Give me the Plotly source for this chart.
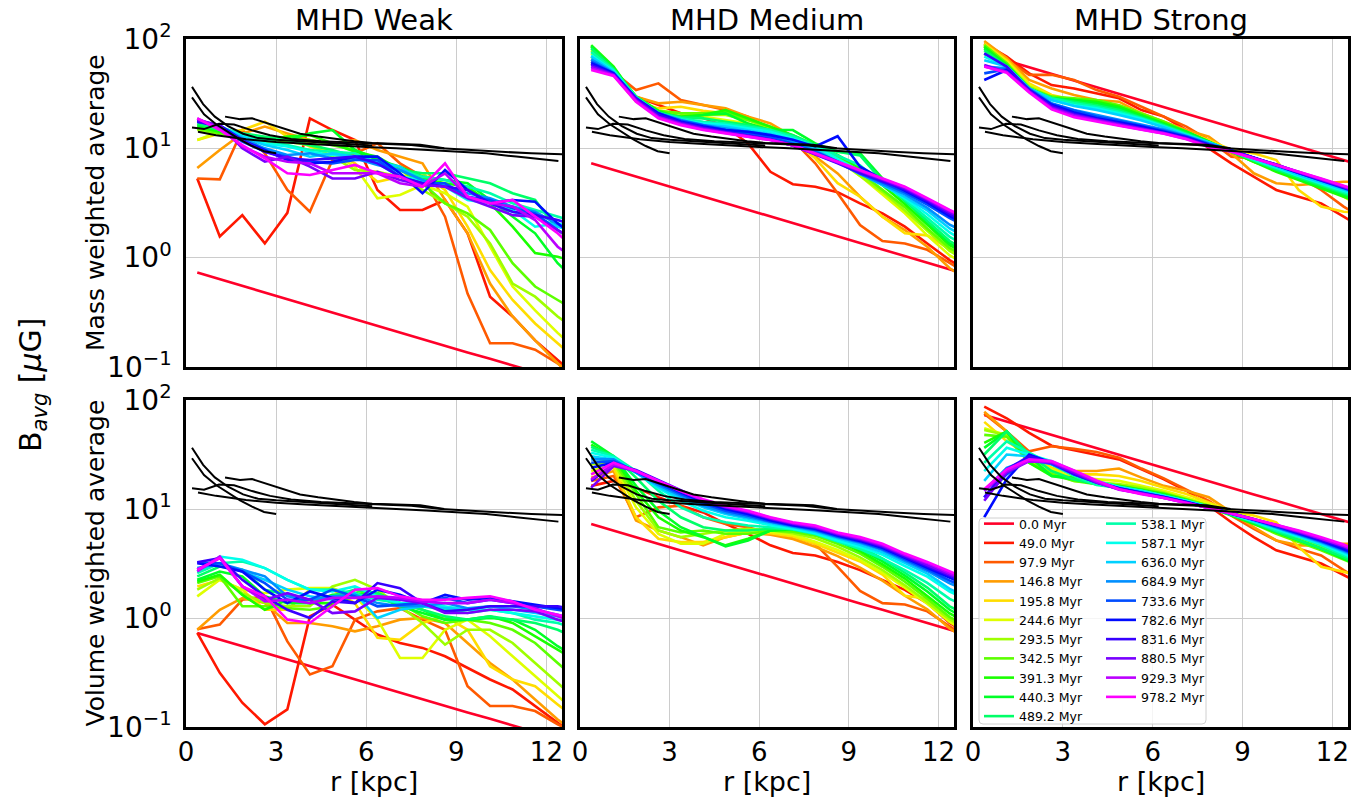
import plotly.graph_objects as go

# ---------------- data ----------------
TIMES_MYR = ["0.0", "49.0", "97.9", "146.8", "195.8", "244.6", "293.5", "342.5", "391.3", "440.3",
             "489.2", "538.1", "587.1", "636.0", "684.9", "733.6", "782.6", "831.6", "880.5", "929.3", "978.2"]
R_KPC = [0.375, 1.125, 1.875, 2.625, 3.375, 4.125, 4.875, 5.625, 6.375, 7.125, 7.875, 8.625,
         9.375, 10.125, 10.875, 11.625, 12.375, 13.125]

MASS_WEAK = [
    [0.73, 0.634, 0.552, 0.48, 0.417, 0.363, 0.315, 0.274, 0.238, 0.207, 0.18, 0.157, 0.136, 0.119, 0.103, 0.09, 0.078, 0.068],
    [5.3, 1.56, 2.45, 1.35, 2.57, 18.8, 14.7, 11.9, 4.16, 2.73, 2.73, 3.37, 1.67, 0.44, 0.29, 0.175, 0.116, 0.077],
    [5.3, 5.2, 14.7, 9.0, 4.16, 2.63, 7.82, 9.0, 11.1, 7.29, 5.51, 2.37, 0.47, 0.165, 0.165, 0.144, 0.108, 0.072],
    [6.6, 9.65, 13.7, 15.8, 13.7, 11.9, 11.1, 11.9, 9.65, 8.39, 7.29, 3.37, 1.67, 0.58, 0.29, 0.175, 0.108, 0.072],
    [11.9, 13.7, 14.7, 17.5, 12.8, 10.4, 9.3, 7.29, 4.95, 5.51, 5.91, 4.16, 1.92, 0.77, 0.41, 0.25, 0.165, 0.108],
    [11.9, 14.2, 12.8, 11.1, 11.9, 11.5, 9.0, 6.8, 3.49, 3.74, 4.62, 3.88, 2.93, 1.26, 0.545, 0.33, 0.205, 0.134],
    [14.7, 13.7, 12.3, 11.1, 11.5, 10.7, 8.39, 6.34, 6.1, 5.51, 4.16, 3.14, 2.37, 1.35, 0.58, 0.44, 0.29, 0.205],
    [15.2, 13.7, 12.8, 11.5, 12.3, 11.9, 10.7, 9.65, 8.1, 6.34, 4.79, 3.14, 2.54, 1.79, 0.89, 0.545, 0.41, 0.31],
    [15.8, 14.2, 12.8, 11.9, 12.8, 13.2, 11.1, 9.3, 8.39, 6.34, 5.3, 4.79, 4.46, 3.14, 1.92, 1.1, 1.02, 0.89],
    [16.3, 14.7, 13.2, 12.3, 11.9, 13.7, 14.7, 9.65, 7.82, 6.8, 5.51, 5.13, 4.79, 3.37, 2.37, 1.67, 0.89, 0.58],
    [16.9, 14.7, 13.7, 12.8, 11.9, 10.7, 9.65, 8.39, 7.55, 6.34, 5.91, 5.91, 5.3, 4.79, 3.88, 3.37, 1.79, 1.26],
    [17.5, 15.5, 13.7, 11.9, 10.7, 9.65, 9.3, 9.0, 7.29, 6.34, 5.51, 5.13, 4.46, 3.88, 3.14, 2.73, 2.37, 2.06],
    [17.9, 15.2, 13.0, 11.1, 10.4, 9.3, 8.7, 8.39, 7.29, 5.51, 5.13, 4.46, 3.37, 3.14, 2.73, 1.92, 2.06, 1.79],
    [18.2, 16.0, 12.8, 10.7, 9.65, 8.39, 9.0, 8.39, 7.55, 6.8, 4.95, 4.62, 3.61, 3.14, 2.63, 2.37, 1.92, 1.67],
    [18.4, 15.8, 12.3, 10.0, 8.7, 9.0, 8.1, 8.1, 7.05, 6.34, 5.13, 4.46, 3.88, 3.49, 2.93, 2.63, 2.0, 1.56],
    [17.9, 15.8, 11.5, 9.3, 8.39, 7.55, 7.29, 7.82, 7.82, 5.51, 4.79, 4.79, 3.61, 3.37, 2.83, 2.54, 1.79, 1.35],
    [17.5, 16.3, 11.9, 9.65, 7.82, 7.29, 7.55, 8.39, 8.39, 5.91, 3.88, 6.34, 4.16, 3.14, 3.37, 3.25, 2.06, 1.45],
    [17.5, 15.8, 11.9, 9.3, 8.1, 7.82, 8.1, 8.39, 7.29, 5.51, 4.79, 4.46, 4.16, 3.14, 2.63, 2.45, 2.21, 1.92],
    [18.2, 16.3, 10.0, 7.55, 8.39, 6.8, 5.3, 5.3, 6.1, 5.13, 4.62, 4.46, 3.49, 2.93, 2.45, 2.37, 1.79, 1.35],
    [18.8, 15.2, 10.4, 8.39, 7.55, 7.29, 5.91, 5.91, 5.91, 4.79, 4.46, 5.91, 3.61, 3.14, 2.93, 2.21, 1.26, 0.89],
    [18.8, 14.7, 10.7, 8.1, 5.91, 5.7, 6.34, 7.05, 5.91, 5.51, 4.46, 7.29, 3.61, 3.14, 3.37, 2.37, 1.67, 1.1],
]

MASS_MEDIUM = [
    [7.3, 6.34, 5.52, 4.8, 4.17, 3.63, 3.15, 2.74, 2.38, 2.07, 1.8, 1.57, 1.36, 1.19, 1.03, 0.9, 0.78, 0.68],
    [60, 50, 29.7, 25.0, 20.9, 19.0, 15.8, 11.1, 6.1, 4.7, 4.46, 3.97, 3.14, 2.54, 1.92, 1.35, 0.95, 0.72],
    [62, 50, 34.1, 39.3, 27.7, 25.0, 22.4, 19.5, 14.7, 11.9, 7.29, 3.88, 1.99, 1.42, 1.35, 1.18, 0.89, 0.68],
    [65, 48.5, 29.7, 25.8, 26.7, 24.8, 23.2, 19.5, 16.9, 12.8, 8.4, 5.9, 3.61, 2.37, 1.79, 1.26, 0.8, 0.6],
    [69, 47, 26.8, 23.2, 24.0, 22.0, 20.9, 18.2, 15.2, 11.9, 8.1, 4.8, 3.61, 2.37, 1.67, 1.6, 1.2, 0.95],
    [74, 48.5, 27.7, 22.0, 20.9, 19.5, 18.2, 16.9, 14.7, 11.9, 9.6, 7.8, 5.6, 3.8, 2.55, 1.6, 1.05, 0.8],
    [79, 52, 28.7, 22.0, 19.5, 20.2, 20.2, 18.2, 15.2, 12.8, 10.2, 8.1, 5.6, 4.0, 2.7, 1.75, 1.15, 0.88],
    [85, 54, 29.7, 22.0, 20.9, 20.9, 21.6, 18.2, 15.8, 12.3, 10.4, 8.4, 6.0, 4.2, 2.9, 1.85, 1.22, 0.95],
    [88, 56, 28.7, 20.9, 19.5, 20.2, 22.4, 18.8, 15.8, 13.2, 10.7, 8.7, 6.5, 4.6, 3.1, 2.0, 1.3, 1.0],
    [86, 54, 29.7, 22.0, 18.8, 20.2, 20.9, 16.9, 14.7, 14.7, 11.1, 9.3, 9.0, 5.3, 3.4, 2.1, 1.35, 1.05],
    [82, 53, 28.7, 21.3, 19.2, 18.8, 17.5, 16.3, 14.7, 13.2, 10.7, 9.3, 8.6, 5.0, 3.3, 2.15, 1.42, 1.1],
    [76, 52, 29.7, 20.9, 18.8, 17.5, 16.9, 15.8, 14.7, 12.8, 10.7, 8.6, 7.0, 4.8, 3.4, 2.3, 1.55, 1.2],
    [71, 51, 28.7, 20.2, 18.2, 16.9, 16.3, 15.2, 14.2, 12.3, 10.4, 8.0, 6.2, 4.7, 3.5, 2.5, 1.7, 1.3],
    [69, 50, 28.7, 20.2, 18.2, 16.3, 15.8, 14.7, 13.5, 11.9, 9.8, 7.5, 5.9, 4.6, 3.6, 2.7, 1.85, 1.45],
    [65, 49, 28.7, 20.9, 18.2, 16.3, 15.2, 14.2, 13.0, 11.3, 9.5, 7.5, 5.8, 4.7, 3.8, 2.85, 2.0, 1.6],
    [62, 48.5, 28.7, 20.9, 17.9, 16.3, 14.7, 13.7, 12.6, 11.0, 9.3, 7.6, 5.9, 4.9, 3.95, 3.05, 2.3, 1.8],
    [60, 48.5, 28.7, 20.9, 17.5, 15.8, 14.7, 14.2, 13.2, 12.0, 10.4, 12.9, 6.8, 5.2, 4.1, 3.2, 2.4, 1.9],
    [58, 47.5, 28.7, 20.2, 17.2, 15.5, 14.2, 13.2, 12.1, 10.6, 8.8, 7.3, 5.95, 5.0, 4.2, 3.3, 2.5, 2.0],
    [56, 47, 27.7, 19.5, 16.9, 15.2, 14.0, 13.0, 12.0, 10.6, 8.85, 7.4, 6.1, 5.13, 4.3, 3.4, 2.6, 2.1],
    [54, 46.5, 27.2, 19.2, 16.6, 14.9, 13.8, 12.9, 11.9, 10.6, 8.9, 7.45, 6.2, 5.2, 4.4, 3.45, 2.68, 2.15],
    [52, 46, 26.7, 18.8, 16.3, 14.7, 13.7, 12.8, 11.9, 10.7, 9.0, 7.55, 6.34, 5.3, 4.46, 3.5, 2.73, 2.2],
]

MASS_STRONG = [
    [73, 63.4, 55.2, 48, 41.7, 36.3, 31.5, 27.4, 23.8, 20.7, 18, 15.7, 13.6, 11.9, 10.3, 9.0, 7.8, 6.8],
    [91, 69, 48.5, 37.9, 35.3, 31.8, 28.7, 22.4, 19.5, 14.7, 10.0, 7.29, 5.51, 4.16, 3.61, 3.14, 2.37, 1.79],
    [88, 64, 47, 47, 42.2, 34.1, 29.7, 24.0, 19.5, 15.8, 11.9, 8.39, 8.1, 6.8, 5.51, 4.16, 2.93, 2.21],
    [96, 67, 42.2, 35.3, 30.8, 27.7, 26.7, 20.9, 17.5, 14.7, 12.8, 9.0, 5.91, 4.79, 4.62, 4.79, 4.95, 4.95],
    [91, 64, 39.3, 30.8, 27.7, 26.7, 24.8, 20.9, 16.9, 14.2, 11.9, 9.65, 9.0, 7.82, 4.16, 2.93, 2.63, 2.54],
    [88, 62, 38, 29.7, 26.2, 25.8, 23.2, 19.5, 16.3, 13.7, 11.1, 9.3, 7.82, 6.57, 5.51, 4.62, 3.61, 2.73],
    [85, 60, 36.6, 29.7, 27.7, 26.7, 24.0, 20.2, 16.9, 13.7, 11.1, 9.3, 7.55, 6.34, 5.3, 4.46, 3.74, 3.14],
    [88, 60, 35.3, 29.7, 28.7, 27.7, 24.8, 20.9, 17.5, 14.2, 11.5, 9.3, 7.55, 6.34, 5.51, 4.62, 3.74, 3.14],
    [85, 58, 35.3, 28.7, 27.7, 26.7, 24.0, 20.2, 16.9, 14.2, 11.5, 9.3, 7.55, 6.1, 5.13, 4.3, 3.61, 3.02],
    [82, 58, 35.3, 28.7, 27.7, 25.8, 23.2, 19.8, 16.6, 14.2, 11.5, 9.3, 7.7, 6.34, 5.3, 4.46, 3.74, 3.14],
    [79, 56, 35.3, 28.7, 26.7, 24.8, 22.4, 19.2, 16.3, 13.7, 11.3, 9.3, 7.8, 6.4, 5.4, 4.6, 3.88, 3.25],
    [74, 56, 35.3, 28.7, 25.8, 24.0, 21.6, 18.8, 16.0, 13.4, 11.3, 9.5, 7.8, 6.6, 5.5, 4.7, 4.0, 3.37],
    [69, 56, 35.3, 27.7, 24.8, 23.2, 20.9, 18.5, 15.8, 13.2, 11.3, 9.5, 7.9, 6.7, 5.6, 4.8, 4.1, 3.49],
    [64, 56, 35.3, 27.7, 24.4, 22.4, 20.2, 18.0, 15.6, 13.1, 11.3, 9.6, 8.1, 6.8, 5.7, 4.9, 4.2, 3.61],
    [56, 54, 35.3, 25.8, 22.4, 20.2, 18.4, 16.6, 14.9, 13.0, 11.1, 9.65, 8.2, 6.9, 5.9, 5.0, 4.3, 3.66],
    [48.5, 53, 34.6, 25.4, 22.2, 19.5, 17.9, 16.1, 14.5, 12.8, 10.9, 9.6, 8.2, 6.95, 5.95, 5.05, 4.35, 3.7],
    [42.2, 52, 34.1, 25.0, 21.3, 18.8, 17.3, 15.8, 14.2, 12.6, 10.8, 9.5, 8.2, 7.05, 5.95, 5.1, 4.4, 3.74],
    [74, 56, 34.1, 24.4, 20.6, 18.4, 16.9, 15.3, 14.0, 12.5, 10.7, 9.5, 8.2, 7.1, 6.0, 5.15, 4.4, 3.77],
    [58, 50, 33.1, 23.6, 20.2, 18.2, 16.6, 15.2, 13.8, 12.3, 10.5, 9.4, 8.2, 7.1, 6.05, 5.2, 4.46, 3.8],
    [56, 50, 33.1, 23.2, 19.8, 17.9, 16.3, 14.9, 13.7, 12.2, 10.4, 9.35, 8.15, 7.1, 6.1, 5.25, 4.5, 3.85],
    [56, 49, 32.4, 22.7, 19.2, 17.5, 16.1, 14.8, 13.6, 12.1, 10.3, 9.3, 8.1, 7.05, 6.1, 5.3, 4.55, 3.88],
]

VOL_WEAK = [
    [0.73, 0.634, 0.552, 0.48, 0.417, 0.363, 0.315, 0.274, 0.238, 0.207, 0.18, 0.157, 0.136, 0.119, 0.103, 0.09, 0.078, 0.068],
    [0.73, 0.314, 0.167, 0.106, 0.145, 1.035, 1.325, 0.966, 0.705, 0.59, 0.532, 0.446, 0.349, 0.273, 0.221, 0.156, 0.11, 0.077],
    [0.79, 0.87, 1.47, 1.58, 0.61, 0.303, 0.361, 0.966, 1.15, 1.23, 0.966, 0.78, 0.237, 0.156, 0.156, 0.14, 0.106, 0.083],
    [0.78, 1.19, 1.52, 1.37, 0.90, 0.90, 0.84, 0.755, 0.84, 0.966, 1.0, 0.90, 0.59, 0.387, 0.273, 0.179, 0.117, 0.083],
    [1.95, 2.24, 1.82, 1.19, 1.19, 1.82, 1.82, 1.37, 0.66, 0.63, 0.90, 1.035, 0.78, 0.361, 0.273, 0.237, 0.161, 0.11],
    [1.58, 2.24, 1.82, 1.69, 1.82, 1.88, 1.88, 1.58, 0.966, 0.43, 0.43, 0.78, 0.966, 0.68, 0.446, 0.292, 0.192, 0.127],
    [1.82, 2.32, 1.69, 1.37, 1.28, 1.28, 1.95, 2.24, 1.82, 1.28, 0.90, 0.57, 0.78, 0.78, 0.59, 0.387, 0.254, 0.167],
    [2.09, 2.41, 1.28, 1.28, 1.23, 1.19, 1.28, 1.82, 1.58, 1.37, 1.035, 0.90, 0.966, 0.90, 0.78, 0.59, 0.387, 0.254],
    [2.16, 2.49, 1.63, 1.19, 1.47, 1.37, 1.37, 1.58, 1.69, 1.37, 1.19, 0.966, 0.966, 1.035, 0.90, 0.68, 0.513, 0.387],
    [2.24, 2.67, 2.41, 1.58, 1.37, 1.37, 1.63, 1.69, 1.58, 1.28, 1.11, 0.966, 0.966, 1.0, 0.966, 0.78, 0.551, 0.42],
    [2.41, 2.97, 2.77, 1.82, 1.63, 1.47, 1.58, 1.82, 1.69, 1.37, 1.19, 1.035, 0.966, 1.035, 0.966, 0.90, 0.78, 0.63],
    [2.58, 3.18, 3.3, 2.87, 2.24, 1.82, 1.82, 1.69, 1.47, 1.37, 1.28, 1.19, 1.11, 1.19, 1.11, 0.966, 0.90, 0.78],
    [2.67, 3.66, 3.42, 2.87, 2.24, 1.82, 1.75, 1.95, 1.58, 1.37, 1.37, 1.28, 1.19, 1.19, 1.11, 1.035, 0.966, 0.9],
    [2.77, 3.18, 2.67, 2.24, 1.82, 1.58, 1.47, 1.69, 1.0, 1.19, 1.28, 1.23, 1.19, 1.28, 1.19, 1.11, 1.035, 0.966],
    [2.87, 3.18, 2.77, 2.41, 1.58, 1.47, 1.58, 1.63, 1.37, 1.28, 1.28, 1.37, 1.23, 1.28, 1.28, 1.19, 1.07, 0.966],
    [3.25, 3.18, 2.67, 2.09, 1.47, 1.47, 1.82, 1.58, 1.28, 1.325, 1.37, 1.53, 1.37, 1.47, 1.37, 1.28, 1.19, 1.11],
    [3.18, 2.97, 2.67, 1.82, 1.37, 1.75, 1.53, 1.37, 1.82, 1.63, 1.37, 1.63, 1.47, 1.53, 1.42, 1.325, 1.23, 1.15],
    [3.25, 3.55, 2.24, 1.58, 1.19, 1.0, 1.42, 1.37, 2.09, 1.88, 1.37, 1.15, 1.19, 1.28, 1.28, 1.28, 1.28, 1.19],
    [2.77, 3.55, 1.95, 1.47, 1.69, 1.47, 1.11, 1.15, 1.53, 1.47, 1.37, 1.11, 1.11, 1.19, 1.19, 1.15, 0.966, 0.84],
    [2.67, 3.66, 1.95, 1.42, 1.47, 1.37, 1.53, 1.53, 1.58, 1.53, 1.42, 1.37, 1.37, 1.47, 1.37, 1.23, 1.035, 0.9],
    [2.77, 3.55, 1.95, 1.58, 0.966, 0.90, 1.28, 1.82, 1.88, 1.58, 1.47, 1.47, 1.53, 1.58, 1.42, 1.19, 1.07, 0.966],
]

VOL_MEDIUM = [
    [7.3, 6.34, 5.52, 4.8, 4.17, 3.63, 3.15, 2.74, 2.38, 2.07, 1.8, 1.57, 1.36, 1.19, 1.03, 0.9, 0.78, 0.68],
    [16.3, 18.1, 15.7, 12.8, 10.7, 9.3, 7.3, 5.92, 4.64, 3.95, 3.75, 3.27, 2.75, 2.23, 1.81, 1.37, 0.9, 0.68],
    [18.1, 20.1, 8.4, 10.35, 10.7, 8.4, 7.3, 6.81, 5.92, 5.52, 4.8, 2.95, 1.77, 1.37, 1.33, 1.15, 0.84, 0.62],
    [19.4, 22.3, 7.83, 6.35, 5.52, 4.64, 5.52, 6.1, 5.8, 5.3, 4.5, 3.7, 2.9, 2.2, 1.6, 1.2, 0.8, 0.6],
    [20.8, 23.9, 8.4, 5.33, 4.97, 4.97, 5.52, 6.1, 6.0, 5.6, 4.8, 4.0, 3.3, 2.5, 1.6, 1.5, 0.95, 0.72],
    [22.3, 25.7, 10.35, 5.92, 4.8, 4.8, 5.92, 6.35, 6.2, 5.8, 5.0, 4.2, 3.4, 2.6, 1.9, 1.35, 0.92, 0.7],
    [25.7, 26.6, 11.9, 6.35, 5.52, 5.92, 6.35, 6.58, 6.4, 6.0, 5.4, 4.5, 3.6, 2.75, 2.0, 1.4, 0.97, 0.75],
    [29.5, 27.5, 13.7, 6.81, 6.1, 6.35, 5.92, 5.92, 6.35, 6.2, 5.7, 4.8, 3.9, 2.95, 2.15, 1.5, 1.02, 0.8],
    [39, 29.5, 14.7, 8.4, 6.35, 5.52, 4.64, 5.33, 6.35, 6.5, 6.0, 5.1, 4.1, 3.1, 2.3, 1.6, 1.1, 0.85],
    [41.8, 30.5, 16.3, 9.65, 6.81, 5.52, 4.55, 5.15, 6.35, 6.6, 6.1, 5.3, 4.3, 3.3, 2.45, 1.75, 1.19, 0.92],
    [37.3, 30.5, 19.4, 11.9, 8.4, 6.81, 6.35, 6.35, 6.58, 6.6, 6.2, 5.4, 4.5, 3.5, 2.6, 1.9, 1.28, 1.0],
    [34.9, 30.5, 22.3, 14.7, 10.35, 8.4, 7.55, 7.05, 6.8, 6.5, 5.9, 5.0, 4.3, 3.5, 2.75, 2.1, 1.5, 1.2],
    [32.8, 29.5, 21.6, 15.5, 11.9, 9.65, 8.4, 7.8, 7.1, 6.6, 6.0, 5.15, 4.5, 3.8, 3.0, 2.4, 1.75, 1.4],
    [30.5, 28.5, 21.6, 16.0, 12.6, 10.35, 9.0, 8.1, 7.4, 6.8, 6.2, 5.4, 4.7, 4.0, 3.2, 2.55, 1.85, 1.5],
    [28.5, 28.5, 21.6, 16.6, 13.2, 10.7, 9.3, 8.4, 7.6, 6.9, 6.35, 5.5, 4.9, 4.2, 3.35, 2.7, 2.08, 1.7],
    [26.6, 27.5, 22.0, 17.2, 13.7, 11.2, 9.65, 8.7, 7.7, 7.0, 6.45, 5.6, 5.0, 4.3, 3.45, 2.8, 2.2, 1.8],
    [23.9, 26.6, 22.3, 17.8, 14.2, 11.6, 10.0, 9.0, 7.9, 7.1, 6.6, 5.7, 5.1, 4.4, 3.55, 2.9, 2.3, 1.9],
    [18.1, 25.7, 22.8, 18.4, 14.7, 12.0, 10.3, 9.3, 8.1, 7.25, 6.7, 5.8, 5.2, 4.5, 3.65, 3.0, 2.45, 2.0],
    [15.7, 24.8, 22.3, 18.1, 14.5, 12.0, 10.4, 9.4, 8.2, 7.35, 6.8, 5.9, 5.3, 4.6, 3.75, 3.1, 2.5, 2.1],
    [18.7, 25.7, 22.3, 18.1, 14.5, 12.1, 10.5, 9.5, 8.3, 7.45, 6.9, 6.0, 5.4, 4.7, 3.8, 3.2, 2.58, 2.15],
    [20.8, 26.6, 22.3, 18.1, 14.7, 12.3, 10.7, 9.65, 8.4, 7.55, 7.05, 6.1, 5.52, 4.8, 3.9, 3.27, 2.65, 2.2],
]

VOL_STRONG = [
    [73, 63.4, 55.2, 48, 41.7, 36.3, 31.5, 27.4, 23.8, 20.7, 18, 15.7, 13.6, 11.9, 10.3, 9.0, 7.8, 6.8],
    [87, 68, 50, 38.1, 34.6, 31.6, 28.5, 23.1, 18.7, 14.7, 10.7, 7.55, 5.52, 4.18, 3.63, 3.16, 2.48, 1.94],
    [75, 51.5, 33.8, 37.6, 35.6, 33.3, 29.5, 23.5, 19.1, 15.2, 11.9, 8.7, 6.58, 5.15, 4.33, 3.75, 2.75, 2.08],
    [78, 51.5, 29.5, 26.6, 22.3, 22.3, 23.5, 19.4, 16.3, 14.7, 12.8, 9.3, 6.81, 5.15, 4.64, 4.64, 4.8, 4.8],
    [63, 41.8, 30.5, 23.9, 20.8, 20.8, 20.1, 18.1, 15.7, 13.7, 11.5, 9.65, 8.7, 7.55, 4.48, 2.95, 2.65, 2.39],
    [55, 47.5, 29.5, 23.1, 19.4, 18.7, 18.1, 16.3, 14.7, 12.8, 11.1, 9.65, 8.1, 6.81, 5.52, 4.48, 3.63, 2.95],
    [53, 47.5, 27.5, 21.6, 18.1, 17.5, 16.9, 15.7, 14.2, 12.3, 10.7, 9.0, 7.55, 6.35, 5.33, 4.48, 3.63, 2.95],
    [47.9, 46, 26.6, 20.8, 18.1, 16.9, 16.3, 15.2, 13.9, 12.3, 10.7, 8.85, 7.3, 5.92, 5.0, 4.18, 3.44, 2.85],
    [40.4, 51.5, 26.6, 20.1, 19.4, 17.5, 16.3, 14.9, 13.7, 12.1, 10.35, 8.7, 7.3, 6.1, 5.15, 4.33, 3.51, 2.85],
    [36.4, 51.5, 30.5, 20.1, 18.7, 16.9, 15.7, 14.7, 13.5, 11.9, 10.35, 8.85, 7.4, 6.1, 5.15, 4.33, 3.51, 2.85],
    [31.6, 51.5, 31.6, 22.3, 18.7, 16.9, 15.5, 14.5, 13.2, 11.9, 10.35, 8.85, 7.55, 6.2, 5.2, 4.4, 3.63, 2.95],
    [26.6, 41.8, 32.8, 25.7, 20.1, 16.6, 15.7, 14.7, 13.2, 11.9, 10.5, 9.0, 7.7, 6.35, 5.52, 4.64, 3.75, 3.05],
    [22.3, 36.4, 31.6, 27.5, 22.3, 18.1, 16.0, 14.7, 13.2, 11.9, 10.5, 9.0, 7.7, 6.58, 5.6, 4.8, 3.9, 3.16],
    [18.1, 31.6, 30.5, 26.6, 21.6, 17.8, 15.7, 14.5, 13.1, 11.7, 10.5, 9.1, 7.83, 6.7, 5.7, 4.88, 4.05, 3.3],
    [14.7, 23.9, 28.5, 25.7, 20.8, 17.5, 15.5, 14.2, 12.9, 11.6, 10.35, 9.1, 7.95, 6.81, 5.8, 4.97, 4.14, 3.38],
    [12.8, 20.8, 29.5, 26.1, 20.8, 17.5, 15.5, 14.2, 12.9, 11.6, 10.35, 9.1, 8.0, 6.9, 5.92, 5.05, 4.22, 3.45],
    [8.4, 18.7, 31.6, 26.6, 21.0, 17.8, 15.5, 14.2, 12.9, 11.6, 10.35, 9.2, 8.0, 7.0, 6.0, 5.15, 4.3, 3.5],
    [12.8, 23.1, 30.5, 26.6, 20.8, 17.5, 15.3, 14.1, 12.8, 11.5, 10.2, 9.1, 8.0, 7.05, 6.1, 5.25, 4.45, 3.65],
    [11.9, 21.6, 27.5, 26.6, 21.6, 17.5, 15.2, 13.9, 12.6, 11.4, 10.2, 9.1, 8.1, 7.1, 6.2, 5.33, 4.55, 3.7],
    [14.7, 22.3, 27.5, 27.0, 22.3, 17.8, 15.0, 13.9, 12.6, 11.4, 10.2, 9.1, 8.1, 7.15, 6.25, 5.4, 4.6, 3.8],
    [15.2, 23.1, 28.5, 27.5, 22.6, 18.3, 15.2, 13.7, 12.6, 11.4, 10.2, 9.1, 8.1, 7.2, 6.35, 5.52, 4.72, 3.9],
]

# observed reference profiles (black), identical in every panel
OBS1_R = [0.2, 0.57, 0.96, 1.4, 1.9, 2.4, 3.0, 3.8, 4.6, 5.4, 6.2]
OBS1_B = [36.5, 25.4, 19.5, 16.0, 13.6, 12.4, 12.0, 11.6, 11.2, 10.9, 10.6]
OBS2_R = [0.2, 0.6, 1.0, 1.4, 1.8, 2.2, 2.6, 3.0]
OBS2_B = [29.2, 20.5, 16.6, 14.0, 12.0, 10.5, 9.4, 9.0]
OBS3_R = [0.2, 0.6, 1.1, 1.6, 2.2, 2.8, 3.5, 4.5, 5.5, 6.5, 7.5, 8.5, 9.5, 10.5, 11.5, 12.6]
OBS3_B = [15.5, 15.0, 16.8, 16.5, 14.6, 13.2, 12.2, 11.6, 11.3, 11.0, 10.7, 10.0, 9.6, 9.3, 9.0, 8.8]
OBS4_R = [0.4, 1.0, 2.0, 3.0, 4.0, 5.0, 6.0, 7.0, 8.0, 9.0, 10.0, 11.0, 12.4]
OBS4_B = [14.2, 13.2, 12.1, 11.4, 11.0, 10.6, 10.3, 10.0, 9.7, 9.4, 9.0, 8.4, 7.66]
OBS5_R = [1.3, 1.8, 2.2, 2.7, 3.2, 3.8, 4.4, 5.0, 5.6, 6.2, 7.0, 7.8, 8.6]
OBS5_B = [19.5, 18.5, 18.8, 17.0, 15.4, 13.6, 12.8, 12.1, 11.6, 11.2, 11.0, 10.8, 10.0]

COLUMN_TITLES = ["MHD Weak", "MHD Medium", "MHD Strong"]
ROW_TITLES = ["Mass weighted average", "Volume weighted average"]
X_TICKS = [0, 3, 6, 9, 12]
Y_TICKS = [0.1, 1, 10, 100]
Y_TICK_TEXT = ["10<sup>\u22121</sup>", "10<sup>0</sup>", "10<sup>1</sup>", "10<sup>2</sup>"]

PANELS = [MASS_WEAK, MASS_MEDIUM, MASS_STRONG, VOL_WEAK, VOL_MEDIUM, VOL_STRONG]
OBS = [(OBS1_R, OBS1_B), (OBS2_R, OBS2_B), (OBS3_R, OBS3_B), (OBS4_R, OBS4_B), (OBS5_R, OBS5_B)]

# ---------------- styling ----------------
FONT = "DejaVu Sans"
W, H = 1368, 799
COL_PX = [(186, 562), (580, 954), (973, 1348)]   # screen pixels
ROW_PX = [(39, 367), (400, 727)]


def px(x):
    return x / W


def py(y):
    return 1 - y / H


_GR = [(0.000, (1.00, 0.00, 0.16)), (0.030, (1.00, 0.00, 0.00)), (0.215, (1.00, 1.00, 0.00)),
       (0.400, (0.00, 1.00, 0.00)), (0.586, (0.00, 1.00, 1.00)), (0.770, (0.00, 0.00, 1.00)),
       (0.954, (1.00, 0.00, 1.00)), (1.000, (1.00, 0.00, 0.75))]


def gist_rainbow(t):
    for (t0, c0), (t1, c1) in zip(_GR[:-1], _GR[1:]):
        if t0 <= t <= t1:
            f = (t - t0) / (t1 - t0)
            return "rgb(%d,%d,%d)" % tuple(round(255 * (a + (b - a) * f)) for a, b in zip(c0, c1))
    return "rgb(255,0,191)"


COLORS = [gist_rainbow(i / len(TIMES_MYR)) for i in range(len(TIMES_MYR))]

fig = go.Figure()
layout = {}
for p, data in enumerate(PANELS):
    r, c = divmod(p, 3)
    xa = "x" if p == 0 else f"x{p + 1}"
    ya = "y" if p == 0 else f"y{p + 1}"
    for i, series in enumerate(data):
        show = (p == 5)
        fig.add_trace(go.Scatter(
            x=R_KPC, y=series, mode="lines", xaxis=xa, yaxis=ya,
            line=dict(color=COLORS[i], width=2.6),
            name=f"{TIMES_MYR[i]} Myr", showlegend=show,
            legend="legend" if i < 11 else "legend2", hoverinfo="skip"))
    for rr, bb in OBS:
        fig.add_trace(go.Scatter(x=rr, y=bb, mode="lines", xaxis=xa, yaxis=ya,
                                 line=dict(color="black", width=2), showlegend=False, hoverinfo="skip"))
    x0, x1 = COL_PX[c]
    y0, y1 = ROW_PX[r]
    common = dict(showline=True, mirror=True, linecolor="black", linewidth=2.5,
                  showgrid=True, gridcolor="#cccccc", gridwidth=1, zeroline=False,
                  automargin=False, ticks="")
    layout["xaxis" if p == 0 else f"xaxis{p + 1}"] = dict(
        domain=[px(x0), px(x1)], anchor=ya, range=[0, 12.52], tickvals=X_TICKS,
        showticklabels=(r == 1), ticklabelstandoff=0,
        tickfont=dict(family=FONT, size=26, color="black"), **common)
    layout["yaxis" if p == 0 else f"yaxis{p + 1}"] = dict(
        domain=[py(y1), py(y0)], anchor=xa, type="log", range=[-1, 2], tickvals=Y_TICKS,
        ticktext=Y_TICK_TEXT, showticklabels=(c == 0), ticklabelstandoff=6,
        tickfont=dict(family=FONT, size=28, color="black"), **common)

annotations = []
for c, title in enumerate(COLUMN_TITLES):
    xc = (COL_PX[c][0] + COL_PX[c][1]) / 2
    annotations.append(dict(text=title, x=px(xc), y=py(20.5), xref="paper", yref="paper",
                            xanchor="center", yanchor="middle", showarrow=False,
                            font=dict(family=FONT, size=29, color="black")))
    annotations.append(dict(text="r [kpc]", x=px(xc), y=0, xref="paper", yref="paper",
                            xanchor="center", yanchor="bottom", showarrow=False,
                            font=dict(family=FONT, size=27, color="black")))
for r, title in enumerate(ROW_TITLES):
    yc = (ROW_PX[r][0] + ROW_PX[r][1]) / 2
    annotations.append(dict(text=title, x=px(95), y=py(yc), xref="paper", yref="paper",
                            xanchor="center", yanchor="middle", showarrow=False, textangle=-90,
                            font=dict(family=FONT, size=25, color="black")))
annotations.append(dict(text="B<sub><i>avg</i></sub> [<i>\u03bc</i>G]", x=px(32), y=py(385),
                        xref="paper", yref="paper", xanchor="center", yanchor="middle",
                        showarrow=False, textangle=-90, font=dict(family=FONT, size=30, color="black")))

# legend frame (rounded)
bx0, by0, bx1, by1, rad = 979, 518, 1206, 724, 4
path = (f"M{px(bx0 + rad)},{py(by0)} L{px(bx1 - rad)},{py(by0)} Q{px(bx1)},{py(by0)} {px(bx1)},{py(by0 + rad)} "
        f"L{px(bx1)},{py(by1 - rad)} Q{px(bx1)},{py(by1)} {px(bx1 - rad)},{py(by1)} "
        f"L{px(bx0 + rad)},{py(by1)} Q{px(bx0)},{py(by1)} {px(bx0)},{py(by1 - rad)} "
        f"L{px(bx0)},{py(by0 + rad)} Q{px(bx0)},{py(by0)} {px(bx0 + rad)},{py(by0)} Z")
shapes = [dict(type="path", path=path, xref="paper", yref="paper", layer="above",
               line=dict(color="#d0d0d0", width=1), fillcolor="rgba(255,255,255,0.8)")]

legend_common = dict(xanchor="left", yanchor="top", bgcolor="rgba(0,0,0,0)", borderwidth=0,
                     font=dict(family=FONT, size=12.5, color="black"), tracegroupgap=0, itemwidth=30)

fig.update_layout(
    width=W, height=H, margin=dict(l=0, r=0, t=0, b=0, autoexpand=False),
    paper_bgcolor="white", plot_bgcolor="white",
    annotations=annotations, shapes=shapes,
    legend=dict(x=px(979), y=py(509), **legend_common),
    legend2=dict(x=px(1101), y=py(509), **legend_common),
    **layout)

# the figure fills the whole window: drop the page's default body margin
fig.write_html("out.html", config={"displayModeBar": False},
               post_script="document.body.style.margin='0';")
